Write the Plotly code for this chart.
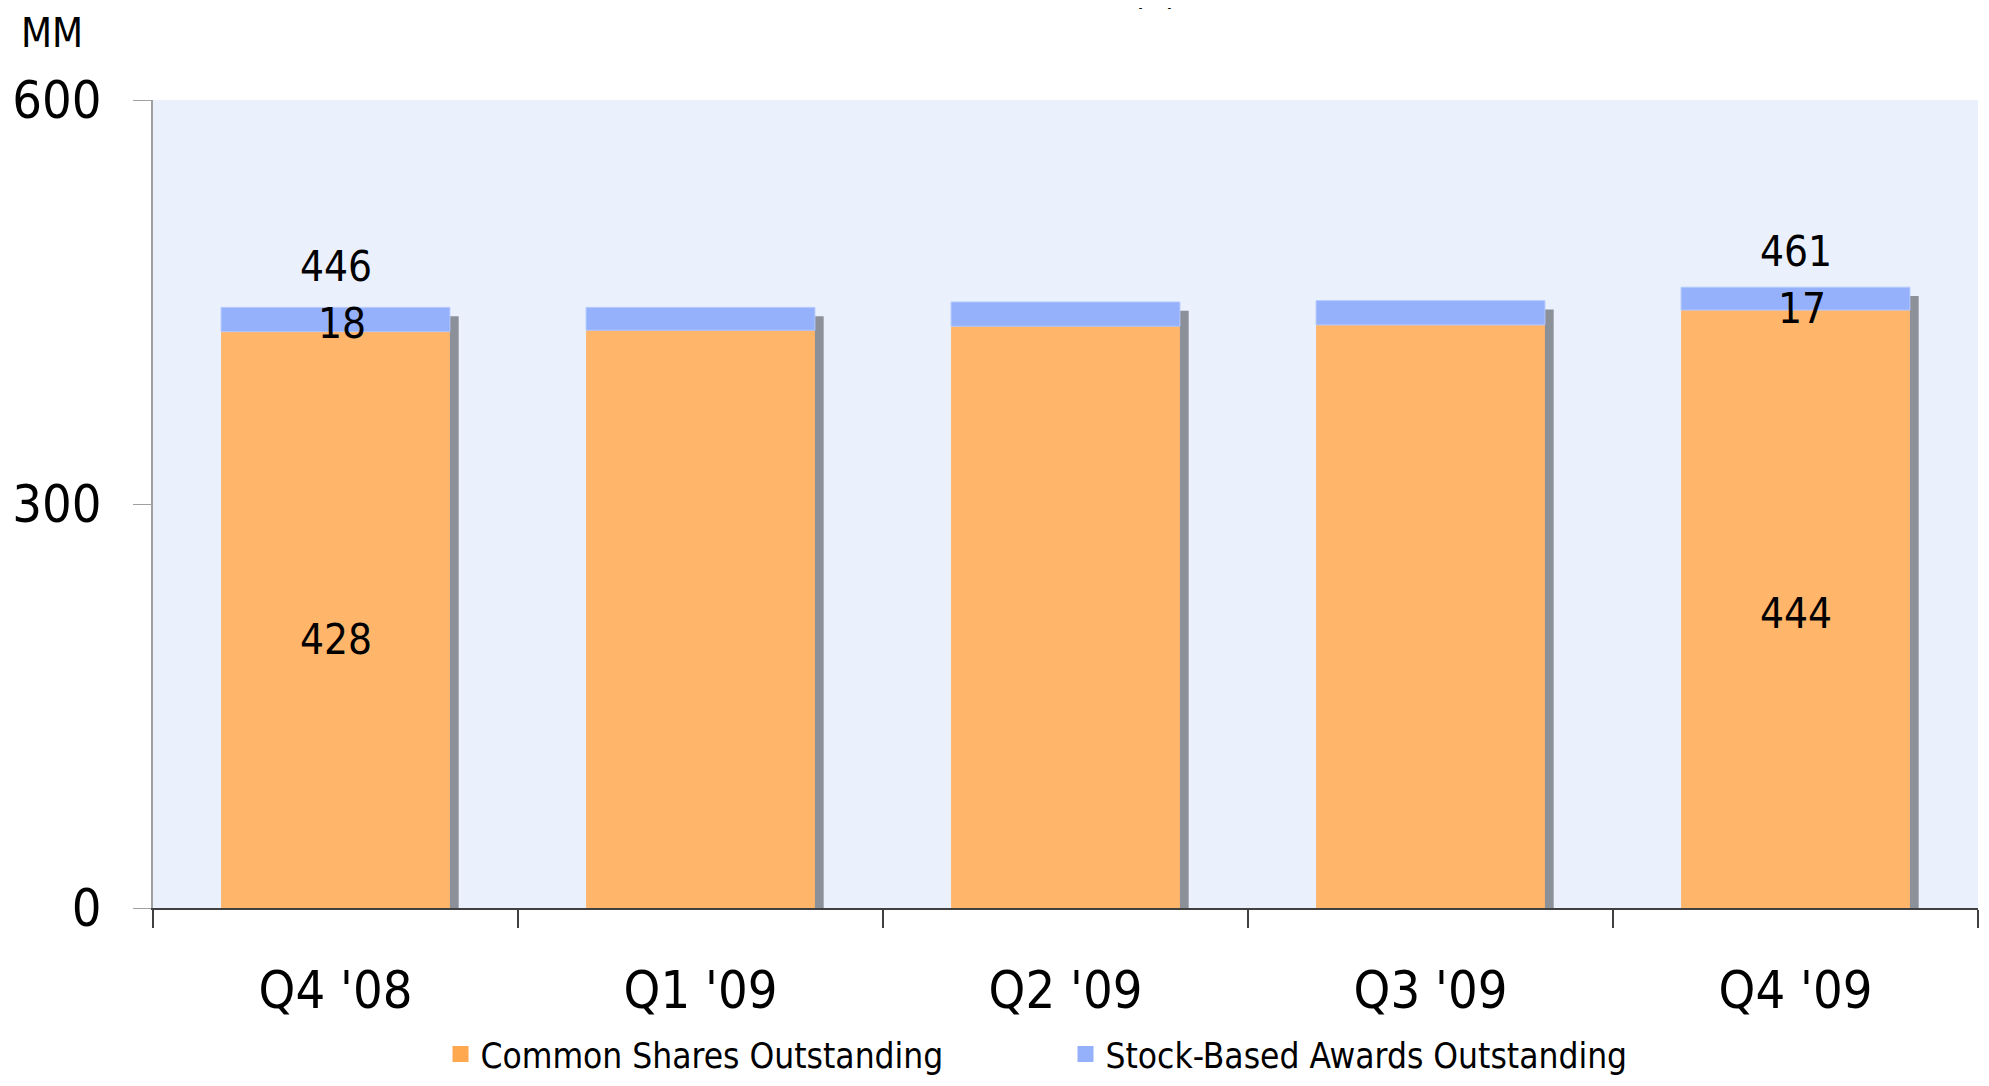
import plotly.graph_objects as go

quarters = ["Q4 '08", "Q1 '09", "Q2 '09", "Q3 '09", "Q4 '09"]
common_shares = [428, 429, 432, 433, 444]
stock_awards = [18, 17, 18, 18, 17]
totals = [c + s for c, s in zip(common_shares, stock_awards)]

# labels shown only on the first and last quarter
total_labels = ["446", "", "", "", "461"]
award_labels = ["18", "", "", "", "17"]
common_labels = ["428", "", "", "", "444"]

y_ticks = [0, 300, 600]

FONT = "DejaVu Sans Condensed"
ORANGE = "#FFB56A"
BLUE = "#95B1FC"
SHADOW = "#8C9199"
BAR_W = 0.627

# label nudges in pixels (total, award, common) for first / last bar
TOTAL_SHIFT = [14, 0, 0, 0, 9]
AWARD_SHIFT = [-4, 0, 0, 0, -10]
COMMON_SHIFT = [-20, 0, 0, 0, -4]

fig = go.Figure()

# drop shadow behind each bar
fig.add_trace(go.Bar(
    x=quarters, y=[t - 6.5 for t in totals], width=BAR_W,
    offset=-BAR_W / 2 + 0.024, marker=dict(color=SHADOW, line=dict(width=0)),
    showlegend=False, hoverinfo="skip"))

fig.add_trace(go.Bar(
    x=quarters, y=common_shares, width=BAR_W, offset=-BAR_W / 2,
    name="Common Shares Outstanding", showlegend=False,
    marker=dict(color=ORANGE, line=dict(width=0))))

fig.add_trace(go.Bar(
    x=quarters, y=stock_awards, base=common_shares, width=BAR_W, offset=-BAR_W / 2,
    name="Stock-Based Awards Outstanding", showlegend=False,
    marker=dict(color=BLUE, line=dict(color="#B4C8FD", width=1))))

# legend entries with larger square swatches
for name, col in [("Common Shares Outstanding", "#FFA850"),
                  ("Stock-Based Awards Outstanding", BLUE)]:
    fig.add_trace(go.Scatter(x=[None], y=[None], mode="markers", name=name,
                             marker=dict(symbol="square", size=20, color=col,
                                         line=dict(width=0))))

ann = []
for i, (q, t, tl, a, al, c, cl) in enumerate(zip(quarters, totals, total_labels, stock_awards,
                                                 award_labels, common_shares, common_labels)):
    if tl:
        ann.append(dict(x=q, y=t, text=tl, showarrow=False, yanchor="bottom",
                        yshift=TOTAL_SHIFT[i], font=dict(family=FONT, size=42, color="black")))
    if al:
        ann.append(dict(x=q, y=c + a / 2, text=al, showarrow=False, yanchor="middle",
                        yshift=AWARD_SHIFT[i], xshift=6,
                        font=dict(family=FONT, size=42, color="black")))
    if cl:
        ann.append(dict(x=q, y=c / 2, text=cl, showarrow=False, yanchor="middle",
                        yshift=COMMON_SHIFT[i], font=dict(family=FONT, size=42, color="black")))

ann.append(dict(xref="paper", yref="paper", x=0.0, y=1.0, xanchor="left", yanchor="top",
                xshift=-134, yshift=92, text="MM", showarrow=False,
                font=dict(family=FONT, size=40, color="black")))
ann.append(dict(xref="paper", yref="paper", x=0.549, y=1.0, yanchor="middle",
                yshift=109, text="(1)", showarrow=False,
                font=dict(family=FONT, size=36, color="black")))

fig.update_layout(
    width=1973, height=1070,
    margin=dict(l=145, r=3, t=92, b=170, autoexpand=False),
    paper_bgcolor="white", plot_bgcolor="#EAF1FD",
    barmode="overlay",
    font=dict(family=FONT, color="black"),
    annotations=ann,
    legend=dict(orientation="h", x=0.5, xanchor="center", y=-0.181, yanchor="middle",
                font=dict(family=FONT, size=35), entrywidth=580, entrywidthmode="pixels",
                itemsizing="trace", traceorder="normal"),
    xaxis=dict(showline=True, linecolor="#404040", linewidth=2, ticks="outside",
               tickson="boundaries", ticklen=18, tickcolor="#404040", tickwidth=2,
               tickfont=dict(family=FONT, size=52), ticklabelstandoff=36,
               showgrid=False, zeroline=False, automargin=False),
    yaxis=dict(range=[0, 600], tickvals=y_ticks, showline=True, linecolor="#A0A0A0",
               linewidth=2, ticks="outside", ticklen=18, tickcolor="#A0A0A0",
               tickfont=dict(family=FONT, size=52), ticklabelstandoff=21,
               showgrid=False, zeroline=False, automargin=False),
)

fig.write_html("out.html")
